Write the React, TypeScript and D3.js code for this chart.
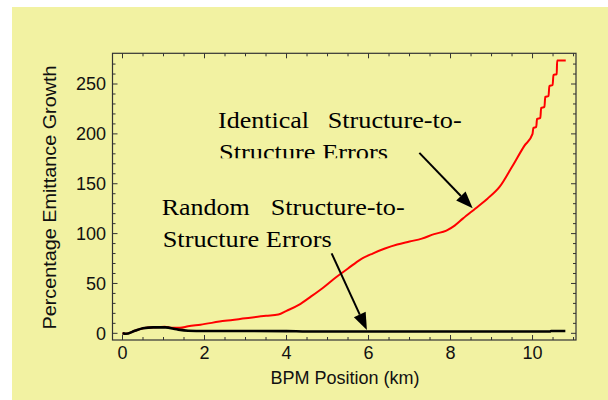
import * as d3 from 'd3';

// Identical structure-to-structure errors (red)
const identicalX = [0, 0.08, 0.3, 0.5, 0.75, 1.03, 1.2, 1.4, 1.6, 1.9, 2.5, 3.0, 3.5, 3.8, 4.0, 4.3, 4.6, 4.9, 5.2, 5.5, 5.8, 6.1, 6.4, 6.7, 7.0, 7.3, 7.6, 7.9, 8.1, 8.3, 8.6, 8.9, 9.2, 9.5, 9.8, 10.0, 10.02, 10.09, 10.11, 10.19, 10.21, 10.29, 10.31, 10.39, 10.41, 10.49, 10.51, 10.59, 10.6, 10.81];
const identicalY = [0, -0.5, 2.5, 5, 6, 6.7, 5.5, 5.5, 7, 8.7, 12.5, 15, 17.5, 18.8, 22.5, 28.5, 37, 46, 56, 65, 74, 80, 85, 89, 92, 95, 99.5, 103, 108, 115, 125, 135, 147, 167, 188, 200, 206, 207, 215, 216, 226, 227, 237, 238, 248, 249, 259, 260, 273.5, 273.5];

// Random structure-to-structure errors (black)
const randomX = [0, 0.08, 0.3, 0.5, 0.75, 1.05, 1.32, 1.6, 2.0, 3.0, 4.0, 4.5, 6, 8, 10, 10.42, 10.45, 10.8];
const randomY = [0, -0.5, 2.5, 5, 6, 6, 4, 2.6, 2.3, 2.3, 2.2, 1.8, 1.8, 1.8, 1.8, 1.8, 2.3, 2.3];

const xTickLabels = [0, 2, 4, 6, 8, 10];
const yTickLabels = [0, 50, 100, 150, 200, 250];

// arrows in data coordinates: [x0, y0, x1, y1]
const arrows = [
  [7.24, 181, 8.54, 125.4],
  [5.1, 80.2, 5.96, 3.3],
];

const W = 608;
const H = 400;
const margin = { left: 112.5, right: 576, top: 53.3, bottom: 340 };

export default function App() {
  const x = d3.scaleLinear().domain([-0.244, 11.06]).range([margin.left, margin.right]);
  const y = d3.scaleLinear().domain([-6.7, 280.8]).range([margin.bottom, margin.top]);

  const line = d3
    .line<[number, number]>()
    .x(d => x(d[0]))
    .y(d => y(d[1]))
    .curve(d3.curveMonotoneX);

  const redPts = identicalX.map((v, i) => [v, identicalY[i]] as [number, number]);
  const blackPts = randomX.map((v, i) => [v, randomY[i]] as [number, number]);

  const xMinor = d3.range(0, 11.01, 0.5);
  const yMinor = d3.range(0, 280, 10);
  const frame = '#333';
  const sans = '"Liberation Sans", Arial, sans-serif';
  const serif = '"Liberation Serif", "Times New Roman", serif';

  const arrowHead = (a: number[]) => {
    const [x0, y0, x1, y1] = [x(a[0]), y(a[1]), x(a[2]), y(a[3])];
    const ang = Math.atan2(y1 - y0, x1 - x0);
    const len = 17;
    const half = 6.5;
    const bx = x1 - len * Math.cos(ang);
    const by = y1 - len * Math.sin(ang);
    const px = -Math.sin(ang) * half;
    const py = Math.cos(ang) * half;
    return {
      line: [x0, y0, bx, by],
      head: `${x1},${y1} ${bx + px},${by + py} ${bx - px},${by - py}`,
    };
  };

  return (
    <svg width={W} height={H} style={{ position: 'absolute', left: 0, top: 0 }}>
      <rect x={0} y={0} width={W} height={H} fill="#fff" />
      <rect x={12} y={7} width={W - 12} height={H - 7} fill="#f2f2a2" />
      <defs>
        <clipPath id="clipIdent">
          <rect x={0} y={0} width={W} height={158.3} />
        </clipPath>
        <clipPath id="plotClip">
          <rect x={margin.left} y={margin.top} width={margin.right - margin.left} height={margin.bottom - margin.top} />
        </clipPath>
      </defs>

      {/* frame */}
      <rect
        x={margin.left}
        y={margin.top}
        width={margin.right - margin.left}
        height={margin.bottom - margin.top}
        fill="none"
        stroke={frame}
        strokeWidth={1.2}
      />

      {/* x ticks, bottom and top, inward */}
      {xMinor.map(t => {
        const major = Math.abs(t % 2) < 1e-6;
        const l = major ? 5 : 3;
        return (
          <g key={'xt' + t} stroke={frame} strokeWidth={1}>
            <line x1={x(t)} x2={x(t)} y1={margin.bottom} y2={margin.bottom - l} />
            <line x1={x(t)} x2={x(t)} y1={margin.top} y2={margin.top + l} />
          </g>
        );
      })}
      {yMinor.map(t => {
        const major = t % 50 === 0;
        const l = major ? 5 : 3;
        return (
          <g key={'yt' + t} stroke={frame} strokeWidth={1}>
            <line x1={margin.left} x2={margin.left + l} y1={y(t)} y2={y(t)} />
            <line x1={margin.right} x2={margin.right - l} y1={y(t)} y2={y(t)} />
          </g>
        );
      })}

      {/* tick labels */}
      {xTickLabels.map(t => (
        <text key={'xl' + t} x={x(t)} y={358.5} textAnchor="middle" fontFamily={sans} fontSize={18} fill="#111">
          {t}
        </text>
      ))}
      {yTickLabels.map(t => (
        <text key={'yl' + t} x={106} y={y(t) + 6.3} textAnchor="end" fontFamily={sans} fontSize={18} fill="#111">
          {t}
        </text>
      ))}

      {/* axis titles */}
      <text x={345} y={384} textAnchor="middle" fontFamily={sans} fontSize={18} fill="#111">
        BPM Position (km)
      </text>
      <text
        transform="translate(56,197.5) rotate(-90)"
        textAnchor="middle"
        fontFamily={sans}
        fontSize={18}
        fill="#111"
        textLength={264}
        lengthAdjust="spacingAndGlyphs"
      >
        Percentage Emittance Growth
      </text>

      {/* curves */}
      <g clipPath="url(#plotClip)">
        <path d={line(redPts) ?? ''} fill="none" stroke="#ff0000" strokeWidth={2} strokeLinejoin="round" />
        <path d={line(blackPts) ?? ''} fill="none" stroke="#000" strokeWidth={2.6} strokeLinejoin="round" />
      </g>

      {/* annotations */}
      <g fontFamily={serif} fontSize={23} fill="#000">
        <text x={218} y={128.3} textLength={91} lengthAdjust="spacingAndGlyphs">Identical</text>
        <text x={327.7} y={128.3} textLength={134} lengthAdjust="spacingAndGlyphs">Structure-to-</text>
        <text x={219} y={160} textLength={169} lengthAdjust="spacingAndGlyphs" clipPath="url(#clipIdent)">
          Structure Errors
        </text>
        <text x={161.7} y={215} textLength={88} lengthAdjust="spacingAndGlyphs">Random</text>
        <text x={270.7} y={215} textLength={134} lengthAdjust="spacingAndGlyphs">Structure-to-</text>
        <text x={162.7} y={246.7} textLength={169} lengthAdjust="spacingAndGlyphs">Structure Errors</text>
      </g>

      {arrows.map((a, i) => {
        const h = arrowHead(a);
        return (
          <g key={'ar' + i}>
            <line x1={h.line[0]} y1={h.line[1]} x2={h.line[2]} y2={h.line[3]} stroke="#000" strokeWidth={2} />
            <polygon points={h.head} fill="#000" />
          </g>
        );
      })}
    </svg>
  );
}
